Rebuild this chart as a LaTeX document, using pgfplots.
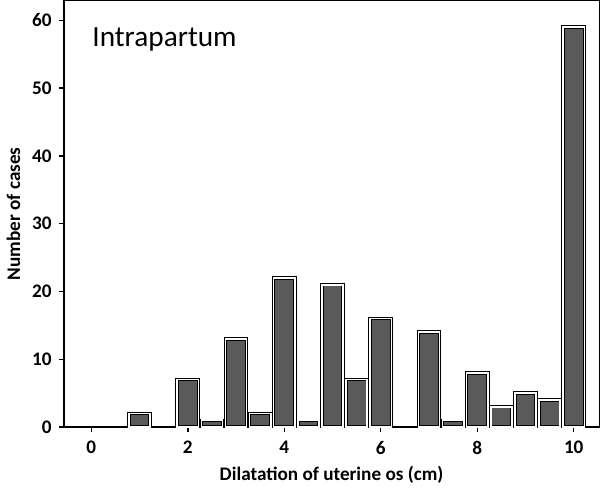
\documentclass[border=0pt]{standalone}
\usepackage{pgfplots}
\pgfplotsset{compat=1.18}
\usepackage{fontspec}
\setmainfont{Carlito}

\definecolor{bargray}{HTML}{5A5A5A}

\pgfplotstableread{
x n
1 2
2 7
2.5 1
3 13
3.5 2
4 22
4.5 1
5 21
5.5 7
6 16
7 14
7.5 1
8 8
8.5 3
9 5
9.5 4
10 59
}\cases

\begin{document}
\begin{tikzpicture}
\begin{axis}[
    scale only axis,
    width=265pt,
    height=211pt,
    xmin=-0.57, xmax=10.53,
    ymin=0, ymax=62.9,
    xtick={0,2,...,10},
    ytick={0,10,...,60},
    tick align=outside,
    tick pos=left,
    major tick length=2.5pt,
    axis line style={line width=0.7pt},
    tick style={line width=0.7pt, black},
    /pgf/number format/assume math mode=true,
    ticklabel style={font=\fontsize{9.5}{10}\selectfont\bfseries},
    xticklabel style={yshift=-1pt},
    xlabel={Dilatation of uterine os (cm)},
    ylabel={Number of cases},
    label style={font=\fontsize{9.5}{10}\selectfont\bfseries},
    xlabel style={yshift=1pt},
    ylabel style={yshift=-1pt},
]
\addplot[ybar, bar width=0.44, bar shift=0pt, fill=bargray,
    draw=black, line width=0.45pt, double=white, double distance=0.8pt]
    table[x=x, y=n] {\cases};
\node[anchor=base west, font=\fontsize{14.5}{17}\selectfont]
    at (rel axis cs:0.04,0.893) {Intrapartum};
\end{axis}
\end{tikzpicture}
\end{document}
